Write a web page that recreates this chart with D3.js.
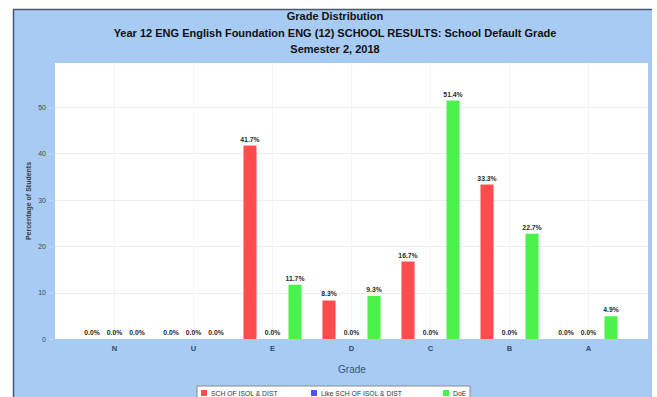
<!DOCTYPE html>
<html>
<head>
<meta charset="utf-8">
<script src="https://cdn.jsdelivr.net/npm/d3@7"></script>
<style>
  body { margin: 0; background: #fff; }
  svg { display: block; font-family: "Liberation Sans", Arial, sans-serif; }
</style>
</head>
<body>
<svg id="chart" width="657" height="397"></svg>
<script>
// grades along the x axis
const grades = ["N", "U", "E", "D", "C", "B", "A"];
const seriesNames = ["SCH OF ISOL & DIST", "Like SCH OF ISOL & DIST", "DoE"];
const schoolVals = [0, 0, 41.7, 8.3, 16.7, 33.3, 0];
const likeVals = [0, 0, 0, 0, 0, 0, 0];
const doeVals = [0, 0, 11.7, 9.3, 51.4, 22.7, 4.9];
const yTicks = [0, 10, 20, 30, 40, 50];
const titleLines = [
    "Grade Distribution",
    "Year 12 ENG English Foundation ENG (12) SCHOOL RESULTS: School Default Grade",
    "Semester 2, 2018"
];

const colors = ["#ff4d4d", "#5050ff", "#4cf24c"];

const svg = d3.select("#chart");

// outer chart panel
svg.append("rect")
    .attr("x", 13).attr("y", 9)
    .attr("width", 639).attr("height", 400)
    .attr("fill", "#a7cbf3");
svg.append("line")
    .attr("x1", 13).attr("x2", 652).attr("y1", 9.5).attr("y2", 9.5)
    .attr("stroke", "#4a5868").attr("stroke-width", 1.5);
svg.append("line")
    .attr("x1", 13.5).attr("x2", 13.5).attr("y1", 9).attr("y2", 397)
    .attr("stroke", "#3f5a78").attr("stroke-width", 1.5);

// title
svg.selectAll("text.title")
    .data(titleLines)
    .enter()
    .append("text")
    .attr("class", "title")
    .attr("x", 335)
    .attr("y", (d, i) => 20 + i * 16.5)
    .attr("text-anchor", "middle")
    .attr("font-size", 11)
    .attr("font-weight", "bold")
    .attr("fill", "#111")
    .text(d => d);

const plotL = 55, plotR = 648, plotT = 63, plotB = 339;

svg.append("rect")
    .attr("x", plotL).attr("y", plotT)
    .attr("width", plotR - plotL).attr("height", plotB - plotT)
    .attr("fill", "#fff");

const x = d3.scaleBand()
    .domain(grades)
    .range([plotL, plotR])
    .paddingInner(0)
    .paddingOuter(0.253);

const x1 = d3.scaleBand()
    .domain(seriesNames)
    .range([0, x.bandwidth()])
    .paddingInner(0.42)
    .paddingOuter(0.465);

const y = d3.scaleLinear()
    .domain([0, 59.5])
    .range([plotB, plotT]);

// gridlines
svg.append("g")
    .selectAll("line")
    .data(yTicks.slice(1))
    .enter()
    .append("line")
    .attr("x1", plotL).attr("x2", plotR)
    .attr("y1", d => Math.round(y(d)) + 0.5)
    .attr("y2", d => Math.round(y(d)) + 0.5)
    .attr("stroke", "#ececec")
    .attr("stroke-width", 1);
svg.append("g")
    .selectAll("line")
    .data(grades)
    .enter()
    .append("line")
    .attr("x1", d => x(d) + x.bandwidth() / 2)
    .attr("x2", d => x(d) + x.bandwidth() / 2)
    .attr("y1", plotT).attr("y2", plotB)
    .attr("stroke", "#f4f4f4")
    .attr("stroke-width", 1);

// y axis
const yAxis = d3.axisLeft(y).tickValues(yTicks).tickSize(4).tickPadding(3);
const yg = svg.append("g")
    .attr("transform", `translate(${plotL - 2},0)`)
    .call(yAxis);
yg.select(".domain").remove();
yg.selectAll(".tick line").attr("stroke", "#c8dbef");
yg.selectAll(".tick text")
    .attr("font-size", 7)
    .attr("font-family", "Liberation Sans, Arial, sans-serif")
    .attr("fill", "#4a4a4a");

svg.append("text")
    .attr("transform", "translate(31,201) rotate(-90)")
    .attr("text-anchor", "middle")
    .attr("font-size", 7)
    .attr("font-weight", "bold")
    .attr("fill", "#3a3a3a")
    .text("Percentage of Students");

// x axis
const xAxis = d3.axisBottom(x).tickSize(0).tickPadding(7);
const xg = svg.append("g")
    .attr("transform", `translate(0,${plotB})`)
    .call(xAxis);
xg.select(".domain").remove();
xg.selectAll(".tick text")
    .attr("font-size", 7.5)
    .attr("font-weight", "bold")
    .attr("font-family", "Liberation Sans, Arial, sans-serif")
    .attr("fill", "#2c4a6e");

svg.append("text")
    .attr("x", 352).attr("y", 373)
    .attr("text-anchor", "middle")
    .attr("font-size", 10)
    .attr("fill", "#34577f")
    .text("Grade");

// bars
const rows = grades.map((g, i) => ({
    grade: g,
    values: [schoolVals[i], likeVals[i], doeVals[i]]
}));

const groups = svg.append("g")
    .selectAll("g")
    .data(rows)
    .enter()
    .append("g")
    .attr("transform", d => `translate(${x(d.grade)},0)`);

groups.selectAll("rect")
    .data(d => d.values.map((v, k) => ({ v: v, k: k })))
    .enter()
    .append("rect")
    .attr("x", d => x1(seriesNames[d.k]))
    .attr("width", x1.bandwidth())
    .attr("y", d => y(d.v))
    .attr("height", d => y(0) - y(d.v))
    .attr("fill", d => colors[d.k]);

groups.selectAll("text")
    .data(d => d.values.map((v, k) => ({ v: v, k: k })))
    .enter()
    .append("text")
    .attr("x", d => x1(seriesNames[d.k]) + x1.bandwidth() / 2)
    .attr("y", d => y(d.v) - 4)
    .attr("text-anchor", "middle")
    .attr("font-size", 6.8)
    .attr("font-weight", "bold")
    .attr("fill", "#2a2a2a")
    .text(d => d.v.toFixed(1) + "%");

// legend
const legend = svg.append("g").attr("transform", "translate(197,386)");
legend.append("rect")
    .attr("width", 273).attr("height", 14)
    .attr("fill", "#fff")
    .attr("stroke", "#8a8a8a");
const legendX = [4, 114, 246];
const items = legend.selectAll("g")
    .data(seriesNames)
    .enter()
    .append("g")
    .attr("transform", (d, i) => `translate(${legendX[i]},4)`);
items.append("rect")
    .attr("width", 6).attr("height", 6)
    .attr("fill", (d, i) => colors[i]);
items.append("text")
    .attr("x", 10).attr("y", 6)
    .attr("font-size", 6.8)
    .attr("fill", "#333")
    .text(d => d);
</script>
</body>
</html>
